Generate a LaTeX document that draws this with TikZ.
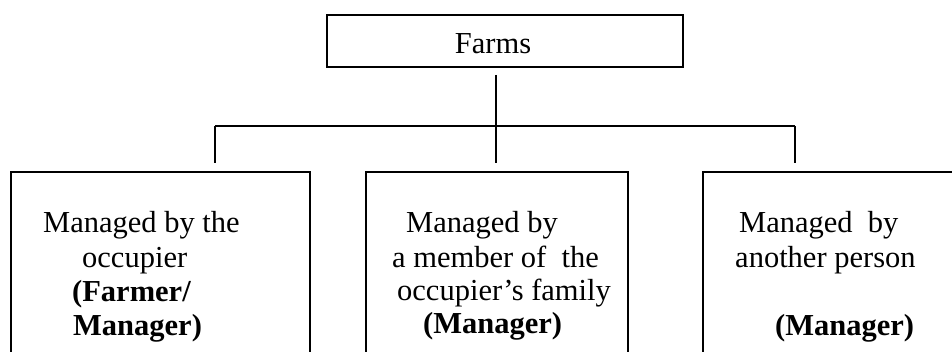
\documentclass[tikz,border=0pt]{standalone}
\usepackage{fontspec}
\setmainfont{Liberation Serif}
\begin{document}
\begin{tikzpicture}[x=1pt,y=-1pt,
  box/.style={draw=black, line width=1.8pt, fill=none, inner sep=0pt},
  txt/.style={anchor=base west, inner sep=0pt, font=\fontsize{30.5}{33}\selectfont},
  conn/.style={draw=black, line width=1.8pt}]
\useasboundingbox (0,0) rectangle (952,351);
\begin{scope}
\clip (0,0) rectangle (952,351);
% top box
\node[box, minimum width=356pt, minimum height=52pt] (farms) at (505,41) {};
% bottom boxes (open below the picture's edge)
\node[box, minimum width=299pt, minimum height=200pt, anchor=north west] (b1) at (10,171) {};
\node[box, minimum width=262pt, minimum height=200pt, anchor=north west] (b2) at (365,171) {};
\node[box, minimum width=270pt, minimum height=200pt, anchor=north west] (b3) at (702,171) {};
\end{scope}
% texts
\node[txt, anchor=base] (ft) at (493,53) {Farms};
\node[txt] (a1) at (43,232) {Managed by the};
\node[txt] (a2) at (82,267.5) {occupier};
\node[txt] (a3) at (72,301.5) {\textbf{(Farmer/}};
\node[txt] (a4) at (73,335) {\textbf{Manager)}};
\node[txt] (m1) at (406,232) {Managed by};
\node[txt] (m2) at (392,267) {a member of\ \ the};
\node[txt] (m3) at (397,300.5) {occupier’s family};
\node[txt] (m4) at (423,333.5) {\textbf{(Manager)}};
\node[txt] (r1) at (739,232) {Managed\ \ by};
\node[txt] (r2) at (735,267) {another person};
\node[txt] (r4) at (775,335) {\textbf{(Manager)}};
% connectors
\coordinate (hub) at (496,126);
\coordinate (d1) at (215,126);
\coordinate (d3) at (795,126);
\draw[conn] (farms.south -| hub) ++(0,7) -- (hub);
\draw[conn] (d1) -- (d3);
\draw[conn, shorten >=8pt] (d1) -- (d1 |- b1.north);
\draw[conn, shorten >=8pt] (hub) -- (hub |- b2.north);
\draw[conn, shorten >=8pt] (d3) -- (d3 |- b3.north);
\end{tikzpicture}
\end{document}
